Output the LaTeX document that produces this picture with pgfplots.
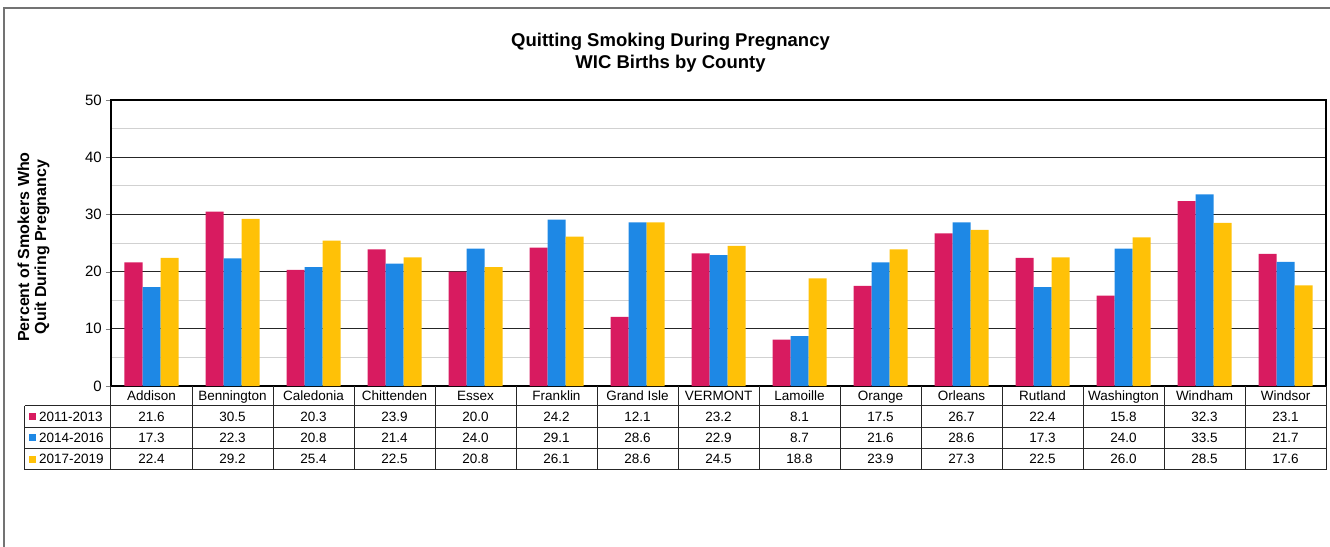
\documentclass[border=0pt]{standalone}
\usepackage{pgfplots}
\pgfplotsset{compat=1.18}
\usepackage{pgfplotstable}
\usepackage{fontspec}
\setmainfont{Liberation Sans}
\definecolor{c1}{HTML}{D81B60}
\definecolor{c2}{HTML}{1E88E5}
\definecolor{c3}{HTML}{FFC107}

\pgfplotstableread[col sep=comma]{
idx,name,a,b,c
0,Addison,21.6,17.3,22.4
1,Bennington,30.5,22.3,29.2
2,Caledonia,20.3,20.8,25.4
3,Chittenden,23.9,21.4,22.5
4,Essex,20.0,24.0,20.8
5,Franklin,24.2,29.1,26.1
6,Grand Isle,12.1,28.6,28.6
7,VERMONT,23.2,22.9,24.5
8,Lamoille,8.1,8.7,18.8
9,Orange,17.5,21.6,23.9
10,Orleans,26.7,28.6,27.3
11,Rutland,22.4,17.3,22.5
12,Washington,15.8,24.0,26.0
13,Windham,32.3,33.5,28.5
14,Windsor,23.1,21.7,17.6
}\data

\begin{document}
\begin{tikzpicture}[x=1pt,y=1pt]
\useasboundingbox (-111,-160) rectangle (1219,386);
% outer chart frame
\draw[black!55, line width=1.5pt] (-107,-170) -- (-107,378) -- (1230,378);
\begin{axis}[
  at={(0,0)}, anchor=south west,
  scale only axis, width=1215pt, height=286pt,
  xmin=-0.5, xmax=14.5, ymin=0, ymax=50,
  xtick=\empty,
  ytick={0,10,...,50}, minor y tick num=1,
  ymajorgrids, yminorgrids,
  major grid style={black!85, line width=0.9pt},
  minor grid style={black!18, line width=0.9pt},
  minor tick length=0pt, major tick length=5pt,
  tick align=outside, ytick pos=left,
  axis line style={line width=1.3pt},
  /pgf/number format/assume math mode=true,
  yticklabel style={font=\fontsize{15}{18}\selectfont, inner sep=0pt, xshift=-4pt},
  ybar, bar width=18pt,
]
\addplot[fill=c1, draw=none, bar shift=-18pt] table[x=idx, y=a] {\data};
\addplot[fill=c2, draw=none, bar shift=0pt] table[x=idx, y=b] {\data};
\addplot[fill=c3, draw=none, bar shift=18pt] table[x=idx, y=c] {\data};
\end{axis}
% title
\node[align=center, font=\fontsize{18.5}{22}\selectfont\bfseries] at (559.5,333)
  {Quitting Smoking During Pregnancy\\WIC Births by County};
% y label
\node[align=center, rotate=90, font=\fontsize{16}{17}\selectfont\bfseries] at (-77.5,139)
  {Percent of Smokers Who\\Quit During Pregnancy};
% data table
\begin{scope}[black!85, line width=1pt]
\draw (-86,-19.5) -- (1215,-19.5);
\foreach \yy in {-41,-62.5,-83.5} \draw (-86,\yy) -- (1215,\yy);
\draw (-86,-19.5) -- (-86,-83.5);
\foreach \k in {0,...,15} \draw (81*\k,0) -- (81*\k,-83.5);
\end{scope}
\begin{scope}[font=\fontsize{13.5}{16}\selectfont, every node/.style={anchor=base, inner sep=0pt}]
\foreach \i in {0,...,14} {
  \pgfplotstablegetelem{\i}{name}\of\data \let\vn\pgfplotsretval
  \node at (40.5+81*\i,-14.5) {\vn};
  \pgfplotstablegetelem{\i}{a}\of\data \let\va\pgfplotsretval
  \node at (40.5+81*\i,-35) {\va};
  \pgfplotstablegetelem{\i}{b}\of\data \let\vb\pgfplotsretval
  \node at (40.5+81*\i,-56.5) {\vb};
  \pgfplotstablegetelem{\i}{c}\of\data \let\vc\pgfplotsretval
  \node at (40.5+81*\i,-77.8) {\vc};
}
\fill[c1] (-82,-33.7) rectangle (-75,-26.7);
\fill[c2] (-82,-55.2) rectangle (-75,-48.2);
\fill[c3] (-82,-76.5) rectangle (-75,-69.5);
\node[anchor=base west] at (-72,-35) {2011-2013};
\node[anchor=base west] at (-72,-56.5) {2014-2016};
\node[anchor=base west] at (-72,-77.8) {2017-2019};
\end{scope}
\end{tikzpicture}
\end{document}
